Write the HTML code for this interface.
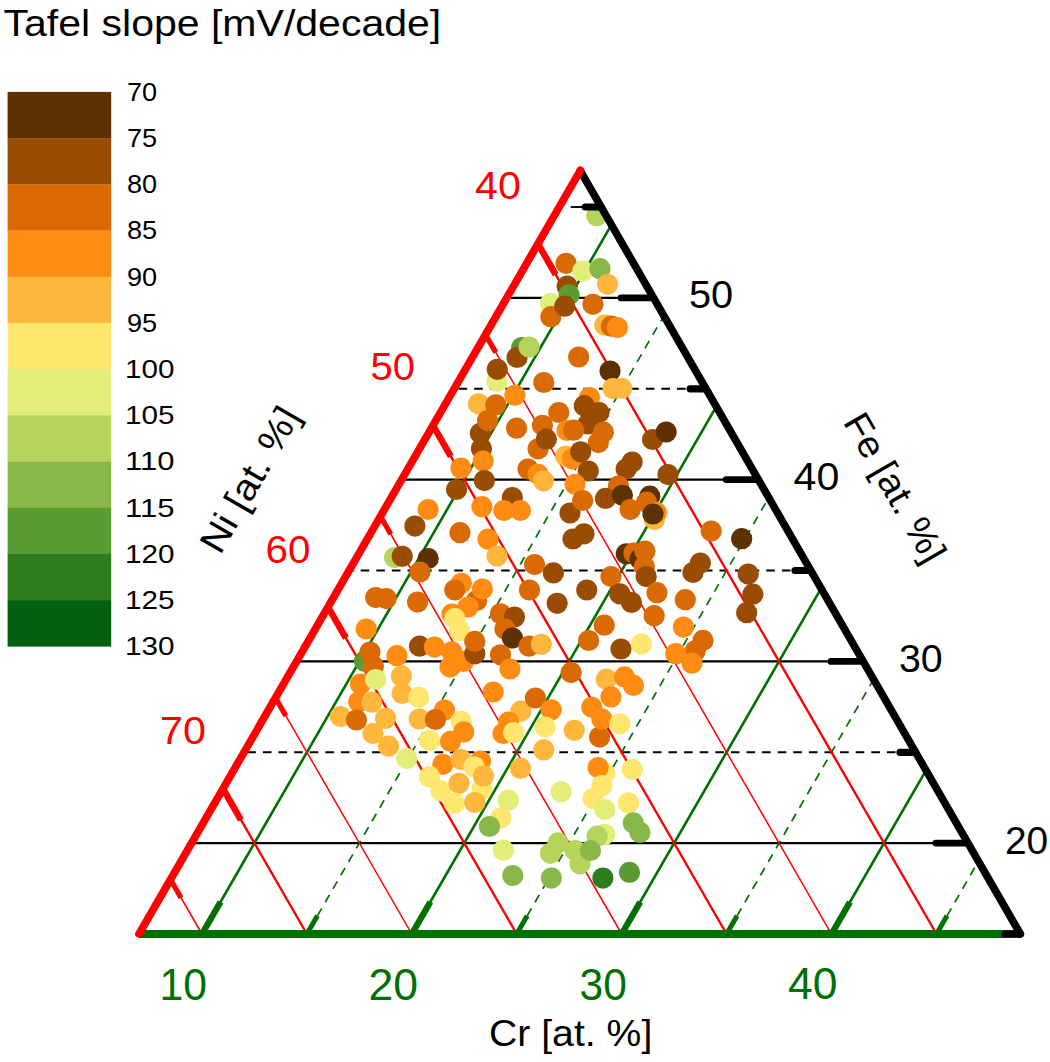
<!DOCTYPE html>
<html><head><meta charset="utf-8"><title>Tafel slope ternary</title>
<style>
html,body{margin:0;padding:0;background:#fff;}
body{width:1050px;height:1062px;overflow:hidden;font-family:"Liberation Sans",sans-serif;}
svg{display:block;font-family:"Liberation Sans",sans-serif;}
</style></head><body>
<svg width="1050" height="1062" viewBox="0 0 1050 1062">
<rect width="1050" height="1062" fill="#fff"/>
<g id="legend">
<rect x="7.6" y="91.90" width="103.6" height="46.50" fill="#5e3104"/>
<rect x="7.6" y="138.10" width="103.6" height="46.50" fill="#994c04"/>
<rect x="7.6" y="184.30" width="103.6" height="46.50" fill="#d96a05"/>
<rect x="7.6" y="230.50" width="103.6" height="46.50" fill="#ff8c12"/>
<rect x="7.6" y="276.70" width="103.6" height="46.50" fill="#ffb63c"/>
<rect x="7.6" y="322.90" width="103.6" height="46.50" fill="#ffe66e"/>
<rect x="7.6" y="369.10" width="103.6" height="46.50" fill="#e2ee78"/>
<rect x="7.6" y="415.30" width="103.6" height="46.50" fill="#b6d45c"/>
<rect x="7.6" y="461.50" width="103.6" height="46.50" fill="#88b848"/>
<rect x="7.6" y="507.70" width="103.6" height="46.50" fill="#5a9c32"/>
<rect x="7.6" y="553.90" width="103.6" height="46.50" fill="#2d7d1e"/>
<rect x="7.6" y="600.10" width="103.6" height="46.50" fill="#03600f"/>
</g>
<g id="plot">
<line x1="967.9" y1="843.1" x2="191.5" y2="843.1" stroke="#000000" stroke-width="2.2" stroke-linecap="butt"/>
<line x1="895.5" y1="752.3" x2="243.9" y2="752.3" stroke="#000000" stroke-width="1.9" stroke-dasharray="8.6 7" stroke-linecap="butt"/>
<line x1="863.0" y1="661.4" x2="296.4" y2="661.4" stroke="#000000" stroke-width="2.2" stroke-linecap="butt"/>
<line x1="790.5" y1="570.5" x2="348.9" y2="570.5" stroke="#000000" stroke-width="1.9" stroke-dasharray="8.6 7" stroke-linecap="butt"/>
<line x1="758.1" y1="479.6" x2="401.3" y2="479.6" stroke="#000000" stroke-width="2.2" stroke-linecap="butt"/>
<line x1="685.6" y1="388.8" x2="453.8" y2="388.8" stroke="#000000" stroke-width="1.9" stroke-dasharray="8.6 7" stroke-linecap="butt"/>
<line x1="653.1" y1="297.9" x2="506.2" y2="297.9" stroke="#000000" stroke-width="2.2" stroke-linecap="butt"/>
<line x1="582.7" y1="207.0" x2="570.7" y2="207.0" stroke="#000000" stroke-width="1.9" stroke-linecap="butt"/>
<line x1="202.0" y1="934.0" x2="611.2" y2="225.2" stroke="#007000" stroke-width="2.6" stroke-linecap="butt"/>
<line x1="317.4" y1="915.8" x2="663.6" y2="316.1" stroke="#007000" stroke-width="1.7" stroke-dasharray="8.6 7" stroke-linecap="butt"/>
<line x1="411.8" y1="934.0" x2="716.1" y2="406.9" stroke="#007000" stroke-width="2.6" stroke-linecap="butt"/>
<line x1="527.2" y1="915.8" x2="768.6" y2="497.8" stroke="#007000" stroke-width="1.7" stroke-dasharray="8.6 7" stroke-linecap="butt"/>
<line x1="621.7" y1="934.0" x2="821.0" y2="588.7" stroke="#007000" stroke-width="2.6" stroke-linecap="butt"/>
<line x1="737.1" y1="915.8" x2="873.5" y2="679.6" stroke="#007000" stroke-width="1.7" stroke-dasharray="8.6 7" stroke-linecap="butt"/>
<line x1="831.5" y1="934.0" x2="926.0" y2="770.4" stroke="#007000" stroke-width="2.6" stroke-linecap="butt"/>
<line x1="947.0" y1="915.8" x2="978.4" y2="861.3" stroke="#007000" stroke-width="1.7" stroke-dasharray="8.6 7" stroke-linecap="butt"/>
<line x1="537.7" y1="243.4" x2="936.5" y2="934.0" stroke="#ff0000" stroke-width="2.4" stroke-linecap="butt"/>
<line x1="485.3" y1="334.3" x2="831.5" y2="934.0" stroke="#ff0000" stroke-width="1.5" stroke-linecap="butt"/>
<line x1="432.8" y1="425.1" x2="726.6" y2="934.0" stroke="#ff0000" stroke-width="2.4" stroke-linecap="butt"/>
<line x1="380.3" y1="516.0" x2="621.7" y2="934.0" stroke="#ff0000" stroke-width="1.5" stroke-linecap="butt"/>
<line x1="327.9" y1="606.9" x2="516.7" y2="934.0" stroke="#ff0000" stroke-width="2.4" stroke-linecap="butt"/>
<line x1="275.4" y1="697.7" x2="411.8" y2="934.0" stroke="#ff0000" stroke-width="1.5" stroke-linecap="butt"/>
<line x1="222.9" y1="788.6" x2="306.9" y2="934.0" stroke="#ff0000" stroke-width="2.4" stroke-linecap="butt"/>
<line x1="170.5" y1="879.5" x2="202.0" y2="934.0" stroke="#ff0000" stroke-width="1.5" stroke-linecap="butt"/>
<g><circle cx="596.8" cy="215.7" r="10.6" fill="#b6d45c"/>
<circle cx="566.1" cy="263.3" r="10.6" fill="#d96a05"/>
<circle cx="582.9" cy="271.0" r="10.6" fill="#e2ee78"/>
<circle cx="600.0" cy="268.7" r="10.6" fill="#88b848"/>
<circle cx="607.6" cy="284.3" r="10.6" fill="#ffb63c"/>
<circle cx="567.2" cy="286.2" r="10.6" fill="#994c04"/>
<circle cx="569.1" cy="294.8" r="10.6" fill="#5a9c32"/>
<circle cx="550.5" cy="303.3" r="10.6" fill="#e2ee78"/>
<circle cx="550.9" cy="316.7" r="10.6" fill="#d96a05"/>
<circle cx="564.8" cy="306.2" r="10.6" fill="#994c04"/>
<circle cx="593.0" cy="304.3" r="10.6" fill="#d96a05"/>
<circle cx="604.8" cy="325.2" r="10.6" fill="#ffb63c"/>
<circle cx="611.4" cy="326.2" r="10.6" fill="#d96a05"/>
<circle cx="617.5" cy="327.5" r="10.6" fill="#ff8c12"/>
<circle cx="521.7" cy="347.5" r="10.6" fill="#5a9c32"/>
<circle cx="517.1" cy="357.5" r="10.6" fill="#994c04"/>
<circle cx="529.1" cy="347.1" r="10.6" fill="#b6d45c"/>
<circle cx="578.7" cy="357.0" r="10.6" fill="#d96a05"/>
<circle cx="497.0" cy="381.5" r="10.6" fill="#e2ee78"/>
<circle cx="497.3" cy="369.3" r="10.6" fill="#994c04"/>
<circle cx="610.1" cy="371.0" r="10.6" fill="#5e3104"/>
<circle cx="543.8" cy="382.5" r="10.6" fill="#d96a05"/>
<circle cx="514.9" cy="395.2" r="10.6" fill="#ff8c12"/>
<circle cx="613.0" cy="388.6" r="10.6" fill="#ffb63c"/>
<circle cx="621.8" cy="388.3" r="10.6" fill="#ffb63c"/>
<circle cx="478.5" cy="403.8" r="10.6" fill="#ffb63c"/>
<circle cx="495.8" cy="404.8" r="10.6" fill="#d96a05"/>
<circle cx="480.4" cy="433.3" r="10.6" fill="#994c04"/>
<circle cx="487.6" cy="420.6" r="10.6" fill="#d96a05"/>
<circle cx="481.5" cy="448.6" r="10.6" fill="#994c04"/>
<circle cx="483.2" cy="461.0" r="10.6" fill="#ff8c12"/>
<circle cx="456.6" cy="489.5" r="10.6" fill="#994c04"/>
<circle cx="461.0" cy="468.2" r="10.6" fill="#ff8c12"/>
<circle cx="484.4" cy="480.6" r="10.6" fill="#994c04"/>
<circle cx="516.6" cy="428.2" r="10.6" fill="#d96a05"/>
<circle cx="558.8" cy="412.5" r="10.6" fill="#d96a05"/>
<circle cx="542.5" cy="425.3" r="10.6" fill="#d96a05"/>
<circle cx="538.1" cy="448.8" r="10.6" fill="#d96a05"/>
<circle cx="546.4" cy="439.2" r="10.6" fill="#994c04"/>
<circle cx="589.6" cy="397.5" r="10.6" fill="#ff8c12"/>
<circle cx="584.3" cy="405.7" r="10.6" fill="#994c04"/>
<circle cx="599.0" cy="412.5" r="10.6" fill="#994c04"/>
<circle cx="588.0" cy="424.0" r="10.6" fill="#994c04"/>
<circle cx="567.0" cy="430.5" r="10.6" fill="#ff8c12"/>
<circle cx="573.7" cy="430.2" r="10.6" fill="#d96a05"/>
<circle cx="603.4" cy="432.2" r="10.6" fill="#d96a05"/>
<circle cx="598.4" cy="442.6" r="10.6" fill="#d96a05"/>
<circle cx="565.7" cy="456.1" r="10.6" fill="#ffb63c"/>
<circle cx="572.2" cy="458.8" r="10.6" fill="#ff8c12"/>
<circle cx="580.7" cy="451.8" r="10.6" fill="#994c04"/>
<circle cx="588.3" cy="471.0" r="10.6" fill="#994c04"/>
<circle cx="528.0" cy="469.0" r="10.6" fill="#d96a05"/>
<circle cx="538.1" cy="474.3" r="10.6" fill="#ff8c12"/>
<circle cx="543.6" cy="480.8" r="10.6" fill="#ffb63c"/>
<circle cx="575.0" cy="484.3" r="10.6" fill="#ff8c12"/>
<circle cx="570.0" cy="513.0" r="10.6" fill="#994c04"/>
<circle cx="582.7" cy="500.5" r="10.6" fill="#d96a05"/>
<circle cx="512.4" cy="497.5" r="10.6" fill="#994c04"/>
<circle cx="481.9" cy="506.7" r="10.6" fill="#ff8c12"/>
<circle cx="503.8" cy="510.5" r="10.6" fill="#ff8c12"/>
<circle cx="520.4" cy="510.5" r="10.6" fill="#ff8c12"/>
<circle cx="428.2" cy="509.5" r="10.6" fill="#ff8c12"/>
<circle cx="414.9" cy="526.1" r="10.6" fill="#994c04"/>
<circle cx="460.0" cy="532.7" r="10.6" fill="#d96a05"/>
<circle cx="488.0" cy="539.2" r="10.6" fill="#ff8c12"/>
<circle cx="497.0" cy="556.0" r="10.6" fill="#ffb63c"/>
<circle cx="573.0" cy="539.0" r="10.6" fill="#994c04"/>
<circle cx="584.0" cy="533.8" r="10.6" fill="#994c04"/>
<circle cx="652.6" cy="439.5" r="10.6" fill="#994c04"/>
<circle cx="666.2" cy="432.0" r="10.6" fill="#5e3104"/>
<circle cx="626.2" cy="469.0" r="10.6" fill="#994c04"/>
<circle cx="632.2" cy="462.0" r="10.6" fill="#994c04"/>
<circle cx="668.0" cy="474.6" r="10.6" fill="#994c04"/>
<circle cx="618.5" cy="486.0" r="10.6" fill="#d96a05"/>
<circle cx="605.5" cy="498.4" r="10.6" fill="#994c04"/>
<circle cx="622.4" cy="495.3" r="10.6" fill="#5e3104"/>
<circle cx="649.8" cy="496.2" r="10.6" fill="#5e3104"/>
<circle cx="646.6" cy="502.2" r="10.6" fill="#d96a05"/>
<circle cx="630.2" cy="509.6" r="10.6" fill="#d96a05"/>
<circle cx="654.4" cy="519.5" r="10.6" fill="#ffb63c"/>
<circle cx="656.4" cy="512.6" r="10.6" fill="#ff8c12"/>
<circle cx="653.0" cy="514.0" r="10.6" fill="#5e3104"/>
<circle cx="711.2" cy="531.0" r="10.6" fill="#d96a05"/>
<circle cx="741.7" cy="538.7" r="10.6" fill="#5e3104"/>
<circle cx="626.3" cy="553.8" r="10.6" fill="#5e3104"/>
<circle cx="634.0" cy="553.0" r="10.6" fill="#d96a05"/>
<circle cx="640.0" cy="559.0" r="10.6" fill="#5e3104"/>
<circle cx="645.0" cy="551.2" r="10.6" fill="#d96a05"/>
<circle cx="644.4" cy="566.4" r="10.6" fill="#d96a05"/>
<circle cx="646.2" cy="576.6" r="10.6" fill="#994c04"/>
<circle cx="700.4" cy="563.0" r="10.6" fill="#994c04"/>
<circle cx="693.0" cy="572.5" r="10.6" fill="#994c04"/>
<circle cx="394.6" cy="557.6" r="10.6" fill="#b6d45c"/>
<circle cx="402.3" cy="556.3" r="10.6" fill="#994c04"/>
<circle cx="428.2" cy="558.5" r="10.6" fill="#5e3104"/>
<circle cx="420.0" cy="572.0" r="10.6" fill="#d96a05"/>
<circle cx="375.7" cy="597.6" r="10.6" fill="#d96a05"/>
<circle cx="386.2" cy="598.6" r="10.6" fill="#d96a05"/>
<circle cx="417.6" cy="602.0" r="10.6" fill="#d96a05"/>
<circle cx="366.2" cy="629.0" r="10.6" fill="#ff8c12"/>
<circle cx="364.5" cy="661.2" r="10.6" fill="#5a9c32"/>
<circle cx="370.0" cy="652.0" r="10.6" fill="#d96a05"/>
<circle cx="373.4" cy="666.2" r="10.6" fill="#d96a05"/>
<circle cx="360.5" cy="684.0" r="10.6" fill="#ff8c12"/>
<circle cx="375.7" cy="679.5" r="10.6" fill="#e2ee78"/>
<circle cx="397.0" cy="655.7" r="10.6" fill="#ff8c12"/>
<circle cx="419.5" cy="646.2" r="10.6" fill="#994c04"/>
<circle cx="434.4" cy="647.1" r="10.6" fill="#ff8c12"/>
<circle cx="451.9" cy="651.9" r="10.6" fill="#ff8c12"/>
<circle cx="463.3" cy="661.4" r="10.6" fill="#ff8c12"/>
<circle cx="450.0" cy="667.1" r="10.6" fill="#ff8c12"/>
<circle cx="461.4" cy="583.3" r="10.6" fill="#ff8c12"/>
<circle cx="454.8" cy="590.0" r="10.6" fill="#d96a05"/>
<circle cx="476.7" cy="600.5" r="10.6" fill="#d96a05"/>
<circle cx="482.4" cy="589.0" r="10.6" fill="#ff8c12"/>
<circle cx="468.1" cy="607.1" r="10.6" fill="#ff8c12"/>
<circle cx="452.0" cy="614.0" r="10.6" fill="#ff8c12"/>
<circle cx="454.8" cy="618.6" r="10.6" fill="#ffe66e"/>
<circle cx="459.5" cy="631.0" r="10.6" fill="#ffe66e"/>
<circle cx="474.8" cy="653.8" r="10.6" fill="#994c04"/>
<circle cx="474.8" cy="641.4" r="10.6" fill="#d96a05"/>
<circle cx="500.5" cy="613.8" r="10.6" fill="#d96a05"/>
<circle cx="514.5" cy="617.0" r="10.6" fill="#994c04"/>
<circle cx="505.0" cy="629.0" r="10.6" fill="#d96a05"/>
<circle cx="512.5" cy="638.0" r="10.6" fill="#5e3104"/>
<circle cx="500.5" cy="654.8" r="10.6" fill="#d96a05"/>
<circle cx="510.0" cy="669.0" r="10.6" fill="#ff8c12"/>
<circle cx="529.5" cy="590.0" r="10.6" fill="#d96a05"/>
<circle cx="534.6" cy="564.6" r="10.6" fill="#d96a05"/>
<circle cx="529.0" cy="646.2" r="10.6" fill="#d96a05"/>
<circle cx="541.4" cy="644.3" r="10.6" fill="#ffb63c"/>
<circle cx="401.4" cy="675.9" r="10.6" fill="#ffb63c"/>
<circle cx="402.2" cy="693.5" r="10.6" fill="#ffb63c"/>
<circle cx="418.8" cy="697.4" r="10.6" fill="#ffe66e"/>
<circle cx="493.3" cy="692.0" r="10.6" fill="#ff8c12"/>
<circle cx="358.8" cy="701.8" r="10.6" fill="#ff8c12"/>
<circle cx="371.8" cy="702.2" r="10.6" fill="#ffb63c"/>
<circle cx="340.5" cy="716.5" r="10.6" fill="#ffb63c"/>
<circle cx="356.5" cy="720.0" r="10.6" fill="#d96a05"/>
<circle cx="385.6" cy="718.3" r="10.6" fill="#ffb63c"/>
<circle cx="419.3" cy="719.0" r="10.6" fill="#ffb63c"/>
<circle cx="444.5" cy="710.0" r="10.6" fill="#ff8c12"/>
<circle cx="435.5" cy="719.5" r="10.6" fill="#d96a05"/>
<circle cx="461.2" cy="721.4" r="10.6" fill="#ffe66e"/>
<circle cx="463.8" cy="731.9" r="10.6" fill="#ff8c12"/>
<circle cx="520.8" cy="711.2" r="10.6" fill="#ffb63c"/>
<circle cx="508.6" cy="722.0" r="10.6" fill="#ff8c12"/>
<circle cx="503.0" cy="733.5" r="10.6" fill="#ff8c12"/>
<circle cx="513.8" cy="732.5" r="10.6" fill="#ffe66e"/>
<circle cx="535.5" cy="698.0" r="10.6" fill="#d96a05"/>
<circle cx="553.4" cy="572.9" r="10.6" fill="#994c04"/>
<circle cx="557.2" cy="603.3" r="10.6" fill="#994c04"/>
<circle cx="586.8" cy="590.0" r="10.6" fill="#994c04"/>
<circle cx="611.0" cy="576.5" r="10.6" fill="#d96a05"/>
<circle cx="619.8" cy="593.8" r="10.6" fill="#994c04"/>
<circle cx="631.5" cy="602.5" r="10.6" fill="#994c04"/>
<circle cx="657.0" cy="592.7" r="10.6" fill="#d96a05"/>
<circle cx="654.2" cy="615.7" r="10.6" fill="#d96a05"/>
<circle cx="685.3" cy="599.7" r="10.6" fill="#d96a05"/>
<circle cx="683.4" cy="627.1" r="10.6" fill="#ff8c12"/>
<circle cx="695.3" cy="650.8" r="10.6" fill="#d96a05"/>
<circle cx="703.0" cy="640.4" r="10.6" fill="#d96a05"/>
<circle cx="675.8" cy="653.7" r="10.6" fill="#ff8c12"/>
<circle cx="692.0" cy="663.2" r="10.6" fill="#ff8c12"/>
<circle cx="604.3" cy="625.2" r="10.6" fill="#d96a05"/>
<circle cx="588.7" cy="640.5" r="10.6" fill="#d96a05"/>
<circle cx="621.0" cy="649.0" r="10.6" fill="#994c04"/>
<circle cx="641.4" cy="643.9" r="10.6" fill="#ffe66e"/>
<circle cx="571.2" cy="672.6" r="10.6" fill="#d96a05"/>
<circle cx="606.4" cy="679.2" r="10.6" fill="#ffb63c"/>
<circle cx="624.5" cy="676.9" r="10.6" fill="#ff8c12"/>
<circle cx="633.5" cy="685.4" r="10.6" fill="#ff8c12"/>
<circle cx="611.0" cy="696.9" r="10.6" fill="#ff8c12"/>
<circle cx="591.8" cy="707.3" r="10.6" fill="#ff8c12"/>
<circle cx="599.6" cy="737.1" r="10.6" fill="#d96a05"/>
<circle cx="601.8" cy="718.9" r="10.6" fill="#ff8c12"/>
<circle cx="620.0" cy="723.8" r="10.6" fill="#ffe66e"/>
<circle cx="551.2" cy="709.8" r="10.6" fill="#ff8c12"/>
<circle cx="545.0" cy="727.0" r="10.6" fill="#ffe66e"/>
<circle cx="574.3" cy="730.3" r="10.6" fill="#ffb63c"/>
<circle cx="748.2" cy="574.1" r="10.6" fill="#994c04"/>
<circle cx="752.9" cy="594.2" r="10.6" fill="#994c04"/>
<circle cx="746.7" cy="612.7" r="10.6" fill="#994c04"/>
<circle cx="373.0" cy="733.5" r="10.6" fill="#ffb63c"/>
<circle cx="388.6" cy="746.2" r="10.6" fill="#ffb63c"/>
<circle cx="406.7" cy="758.6" r="10.6" fill="#e2ee78"/>
<circle cx="429.5" cy="740.5" r="10.6" fill="#ffe66e"/>
<circle cx="450.5" cy="741.4" r="10.6" fill="#ff8c12"/>
<circle cx="442.9" cy="764.3" r="10.6" fill="#ff8c12"/>
<circle cx="461.0" cy="759.5" r="10.6" fill="#ffb63c"/>
<circle cx="480.5" cy="761.0" r="10.6" fill="#ff8c12"/>
<circle cx="474.0" cy="766.8" r="10.6" fill="#ffe66e"/>
<circle cx="482.0" cy="789.0" r="10.6" fill="#ffe66e"/>
<circle cx="483.5" cy="776.0" r="10.6" fill="#ffb63c"/>
<circle cx="429.5" cy="776.7" r="10.6" fill="#ffe66e"/>
<circle cx="441.0" cy="791.0" r="10.6" fill="#ffe66e"/>
<circle cx="459.0" cy="783.3" r="10.6" fill="#ffb63c"/>
<circle cx="454.3" cy="803.3" r="10.6" fill="#ffe66e"/>
<circle cx="474.8" cy="802.6" r="10.6" fill="#ffb63c"/>
<circle cx="508.4" cy="800.2" r="10.6" fill="#e2ee78"/>
<circle cx="501.0" cy="817.8" r="10.6" fill="#ffe66e"/>
<circle cx="489.5" cy="826.5" r="10.6" fill="#88b848"/>
<circle cx="503.5" cy="850.2" r="10.6" fill="#e2ee78"/>
<circle cx="512.8" cy="875.5" r="10.6" fill="#88b848"/>
<circle cx="520.5" cy="768.4" r="10.6" fill="#ffb63c"/>
<circle cx="543.8" cy="749.9" r="10.6" fill="#ffb63c"/>
<circle cx="604.8" cy="773.3" r="10.6" fill="#ffe66e"/>
<circle cx="598.1" cy="767.6" r="10.6" fill="#ff8c12"/>
<circle cx="601.9" cy="785.7" r="10.6" fill="#ffe66e"/>
<circle cx="593.0" cy="798.5" r="10.6" fill="#ffe66e"/>
<circle cx="632.4" cy="769.5" r="10.6" fill="#ffe66e"/>
<circle cx="628.6" cy="802.9" r="10.6" fill="#ffe66e"/>
<circle cx="604.8" cy="809.5" r="10.6" fill="#e2ee78"/>
<circle cx="561.0" cy="791.8" r="10.6" fill="#e2ee78"/>
<circle cx="633.3" cy="822.9" r="10.6" fill="#88b848"/>
<circle cx="640.0" cy="832.4" r="10.6" fill="#88b848"/>
<circle cx="604.8" cy="834.3" r="10.6" fill="#e2ee78"/>
<circle cx="597.1" cy="836.2" r="10.6" fill="#b6d45c"/>
<circle cx="558.1" cy="842.9" r="10.6" fill="#b6d45c"/>
<circle cx="550.5" cy="853.3" r="10.6" fill="#b6d45c"/>
<circle cx="575.2" cy="850.5" r="10.6" fill="#b6d45c"/>
<circle cx="580.0" cy="863.8" r="10.6" fill="#b6d45c"/>
<circle cx="590.5" cy="850.5" r="10.6" fill="#88b848"/>
<circle cx="551.4" cy="878.1" r="10.6" fill="#88b848"/>
<circle cx="602.9" cy="878.1" r="10.6" fill="#2d7d1e"/>
<circle cx="629.5" cy="872.4" r="10.6" fill="#5a9c32"/></g>
<line x1="139.0" y1="934.0" x2="1020.4" y2="934.0" stroke="#007000" stroke-width="8" stroke-linecap="butt"/>
<line x1="1020.4" y1="934.0" x2="580.2" y2="170.7" stroke="#000000" stroke-width="7.6" stroke-linecap="round"/>
<line x1="139.0" y1="934.0" x2="580.4" y2="170.4" stroke="#ff0000" stroke-width="7.7" stroke-linecap="round"/>
<line x1="537.7" y1="243.4" x2="555.7" y2="274.6" stroke="#ff0000" stroke-width="6.5" stroke-linecap="butt"/>
<line x1="485.3" y1="334.3" x2="495.8" y2="352.4" stroke="#ff0000" stroke-width="5.3" stroke-linecap="butt"/>
<line x1="432.8" y1="425.1" x2="450.8" y2="456.3" stroke="#ff0000" stroke-width="6.5" stroke-linecap="butt"/>
<line x1="380.3" y1="516.0" x2="390.8" y2="534.2" stroke="#ff0000" stroke-width="5.3" stroke-linecap="butt"/>
<line x1="327.9" y1="606.9" x2="345.9" y2="638.0" stroke="#ff0000" stroke-width="6.5" stroke-linecap="butt"/>
<line x1="275.4" y1="697.7" x2="285.9" y2="715.9" stroke="#ff0000" stroke-width="5.3" stroke-linecap="butt"/>
<line x1="222.9" y1="788.6" x2="240.9" y2="819.8" stroke="#ff0000" stroke-width="6.5" stroke-linecap="butt"/>
<line x1="170.5" y1="879.5" x2="181.0" y2="897.7" stroke="#ff0000" stroke-width="5.3" stroke-linecap="butt"/>
<line x1="202.0" y1="934.0" x2="220.5" y2="902.0" stroke="#007000" stroke-width="6.4" stroke-linecap="butt"/>
<line x1="306.9" y1="934.0" x2="317.4" y2="915.8" stroke="#007000" stroke-width="5" stroke-linecap="butt"/>
<line x1="411.8" y1="934.0" x2="430.3" y2="902.0" stroke="#007000" stroke-width="6.4" stroke-linecap="butt"/>
<line x1="516.7" y1="934.0" x2="527.2" y2="915.8" stroke="#007000" stroke-width="5" stroke-linecap="butt"/>
<line x1="621.7" y1="934.0" x2="640.2" y2="902.0" stroke="#007000" stroke-width="6.4" stroke-linecap="butt"/>
<line x1="726.6" y1="934.0" x2="737.1" y2="915.8" stroke="#007000" stroke-width="5" stroke-linecap="butt"/>
<line x1="831.5" y1="934.0" x2="850.0" y2="902.0" stroke="#007000" stroke-width="6.4" stroke-linecap="butt"/>
<line x1="936.5" y1="934.0" x2="947.0" y2="915.8" stroke="#007000" stroke-width="5" stroke-linecap="butt"/>
<line x1="1020.4" y1="934.0" x2="1004.9" y2="934.0" stroke="#000000" stroke-width="7.2" stroke-linecap="round"/>
<line x1="967.9" y1="843.1" x2="935.9" y2="843.1" stroke="#000000" stroke-width="6.8" stroke-linecap="round"/>
<line x1="915.5" y1="752.3" x2="900.0" y2="752.3" stroke="#000000" stroke-width="7.2" stroke-linecap="round"/>
<line x1="863.0" y1="661.4" x2="831.0" y2="661.4" stroke="#000000" stroke-width="6.8" stroke-linecap="round"/>
<line x1="810.5" y1="570.5" x2="795.0" y2="570.5" stroke="#000000" stroke-width="7.2" stroke-linecap="round"/>
<line x1="758.1" y1="479.6" x2="726.1" y2="479.6" stroke="#000000" stroke-width="6.8" stroke-linecap="round"/>
<line x1="705.6" y1="388.8" x2="690.1" y2="388.8" stroke="#000000" stroke-width="7.2" stroke-linecap="round"/>
<line x1="653.1" y1="297.9" x2="621.1" y2="297.9" stroke="#000000" stroke-width="6.8" stroke-linecap="round"/>
<line x1="600.7" y1="207.0" x2="585.2" y2="207.0" stroke="#000000" stroke-width="7.2" stroke-linecap="round"/>
</g>
<g id="labels">
<text x="3.5" y="35.8" font-size="37" fill="#000" textLength="437.73" lengthAdjust="spacingAndGlyphs">Tafel slope [mV/decade]</text>
<text x="475.0" y="198.7" font-size="39" fill="#ff0000" textLength="45.77" lengthAdjust="spacingAndGlyphs">40</text>
<text x="370.5" y="380.1" font-size="39" fill="#ff0000" textLength="44.33" lengthAdjust="spacingAndGlyphs">50</text>
<text x="265.5" y="562.8" font-size="39" fill="#ff0000" textLength="44.86" lengthAdjust="spacingAndGlyphs">60</text>
<text x="160.0" y="744.1" font-size="39" fill="#ff0000" textLength="45.82" lengthAdjust="spacingAndGlyphs">70</text>
<text x="689.0" y="307.8" font-size="39" fill="#000" textLength="44.23" lengthAdjust="spacingAndGlyphs">50</text>
<text x="793.5" y="490.0" font-size="39" fill="#000" textLength="45.77" lengthAdjust="spacingAndGlyphs">40</text>
<text x="899.0" y="672.1" font-size="39" fill="#000" textLength="43.72" lengthAdjust="spacingAndGlyphs">30</text>
<text x="1005.0" y="853.6" font-size="39" fill="#000" textLength="43.18" lengthAdjust="spacingAndGlyphs">20</text>
<text x="159.5" y="999.6" font-size="44" fill="#007000" textLength="47.54" lengthAdjust="spacingAndGlyphs">10</text>
<text x="368.5" y="999.6" font-size="44" fill="#007000" textLength="49.58" lengthAdjust="spacingAndGlyphs">20</text>
<text x="579.5" y="999.9" font-size="44" fill="#007000" textLength="47.33" lengthAdjust="spacingAndGlyphs">30</text>
<text x="788.0" y="999.4" font-size="44" fill="#007000" textLength="49.42" lengthAdjust="spacingAndGlyphs">40</text>
<text x="489.0" y="1045.6" font-size="37" fill="#000" textLength="163.31" lengthAdjust="spacingAndGlyphs">Cr [at. %]</text>
<text x="127.0" y="101.1" font-size="25" fill="#000" textLength="30.17" lengthAdjust="spacingAndGlyphs">70</text>
<text x="127.0" y="147.1" font-size="25" fill="#000" textLength="30.17" lengthAdjust="spacingAndGlyphs">75</text>
<text x="127.0" y="193.1" font-size="25" fill="#000" textLength="30.17" lengthAdjust="spacingAndGlyphs">80</text>
<text x="127.0" y="239.1" font-size="25" fill="#000" textLength="30.17" lengthAdjust="spacingAndGlyphs">85</text>
<text x="127.0" y="286.1" font-size="25" fill="#000" textLength="30.17" lengthAdjust="spacingAndGlyphs">90</text>
<text x="127.0" y="332.1" font-size="25" fill="#000" textLength="30.17" lengthAdjust="spacingAndGlyphs">95</text>
<text x="125.0" y="378.1" font-size="25" fill="#000" textLength="49.42" lengthAdjust="spacingAndGlyphs">100</text>
<text x="125.0" y="424.1" font-size="25" fill="#000" textLength="49.45" lengthAdjust="spacingAndGlyphs">105</text>
<text x="125.0" y="470.1" font-size="25" fill="#000" textLength="49.45" lengthAdjust="spacingAndGlyphs">110</text>
<text x="125.0" y="517.1" font-size="25" fill="#000" textLength="49.45" lengthAdjust="spacingAndGlyphs">115</text>
<text x="125.0" y="563.1" font-size="25" fill="#000" textLength="49.42" lengthAdjust="spacingAndGlyphs">120</text>
<text x="125.0" y="609.1" font-size="25" fill="#000" textLength="49.45" lengthAdjust="spacingAndGlyphs">125</text>
<text x="125.0" y="655.1" font-size="25" fill="#000" textLength="49.42" lengthAdjust="spacingAndGlyphs">130</text>
<text font-size="37" fill="#000" text-anchor="middle" textLength="161.39" lengthAdjust="spacingAndGlyphs" transform="translate(252.0,480.8) rotate(-60)" x="0" y="10">Ni [at. %]</text>
<text font-size="37" fill="#000" text-anchor="middle" textLength="166.0" lengthAdjust="spacingAndGlyphs" transform="translate(892.7,489.0) rotate(60)" x="0" y="10">Fe [at. %]</text>
</g>
</svg>
</body></html>
